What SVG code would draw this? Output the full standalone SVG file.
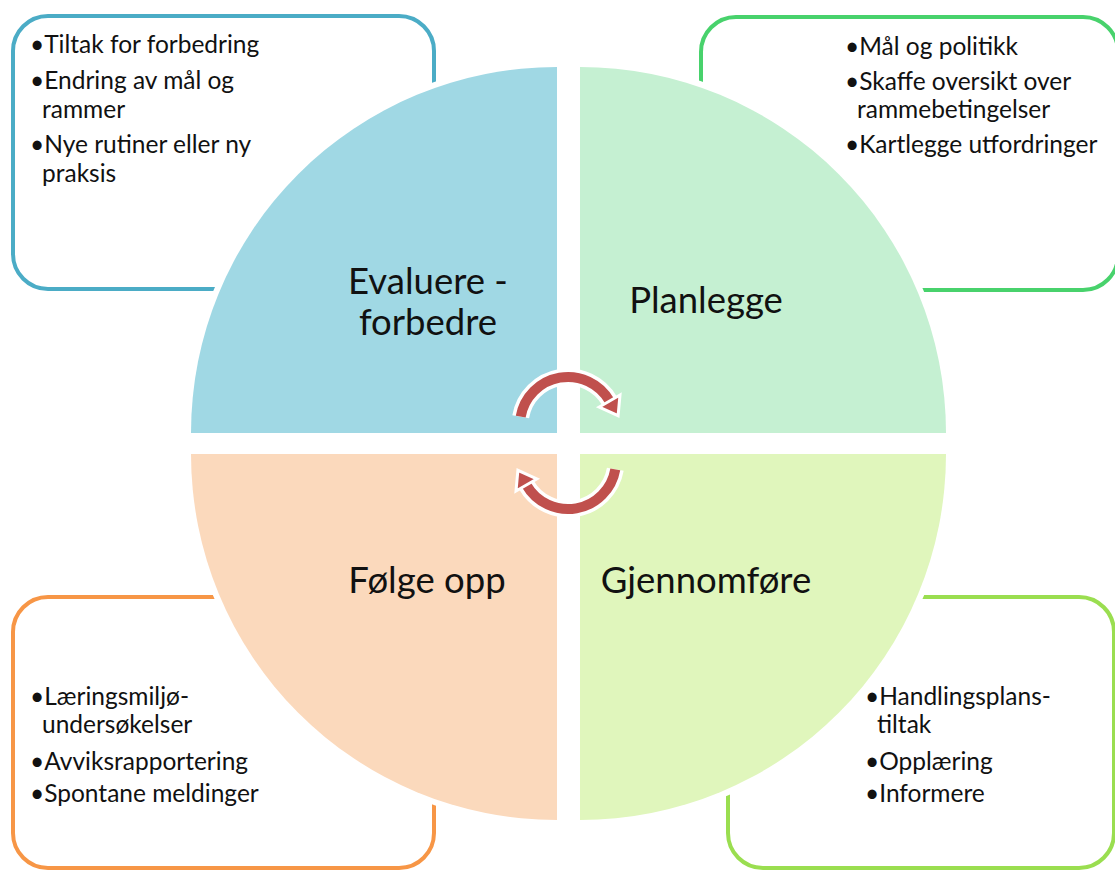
<svg xmlns="http://www.w3.org/2000/svg" width="1115" height="870" viewBox="0 0 1115 870">
<style>
.box{fill:#fff;stroke-width:4}
.q{stroke:#fff;stroke-width:12;paint-order:stroke}
.t{font-family:Lato,"Liberation Sans",sans-serif;font-size:24.5px;fill:#111}
.big{font-family:Lato,"Liberation Sans",sans-serif;font-size:36.5px;fill:#111;text-anchor:middle}
.arcw{fill:none;stroke:#fff;stroke-width:17}
.arcr{fill:none;stroke:#C0504D;stroke-width:10}
.head{fill:#C0504D;stroke:#fff;stroke-width:3;stroke-linejoin:miter}
</style>
<g id="box-evaluere"><rect class="box" x="13" y="16" width="421" height="273" rx="35" stroke="#4BACC6"/>
<text class="t"><tspan x="30" y="53">•Tiltak for forbedring</tspan><tspan x="30" y="89">•Endring av mål og</tspan><tspan x="42" y="118">rammer</tspan><tspan x="30" y="153">•Nye rutiner eller ny</tspan><tspan x="42" y="182">praksis</tspan></text></g>
<g id="box-planlegge"><rect class="box" x="701" y="17" width="417" height="273" rx="35" stroke="#48D26C"/>
<text class="t"><tspan x="845" y="55">•Mål og politikk</tspan><tspan x="845" y="90">•Skaffe oversikt over</tspan><tspan x="857" y="118">rammebetingelser</tspan><tspan x="845" y="153">•Kartlegge utfordringer</tspan></text></g>
<g id="box-folge"><rect class="box" x="13" y="597" width="421" height="271" rx="35" stroke="#F79646"/>
<text class="t"><tspan x="30" y="705">•Læringsmiljø-</tspan><tspan x="42" y="733">undersøkelser</tspan><tspan x="30" y="770">•Avviksrapportering</tspan><tspan x="30" y="802">•Spontane meldinger</tspan></text></g>
<g id="box-gjennomfore"><rect class="box" x="728" y="597" width="386" height="271" rx="35" stroke="#9ADE50"/>
<text class="t"><tspan x="865" y="705">•Handlingsplans-</tspan><tspan x="877" y="733">tiltak</tspan><tspan x="865" y="770">•Opplæring</tspan><tspan x="865" y="802">•Informere</tspan></text></g>
<g id="q-evaluere"><path class="q" fill="#A0D8E4" d="M557,433 L191,433 A366,366 0 0 1 557,67 Z"/>
<text class="big"><tspan x="428" y="294">Evaluere -</tspan><tspan x="428" y="335">forbedre</tspan></text></g>
<g id="q-planlegge"><path class="q" fill="#C5F0D2" d="M580,433 L580,67 A366,366 0 0 1 946,433 Z"/>
<text class="big" x="706" y="313">Planlegge</text></g>
<g id="q-folge"><path class="q" fill="#FBD9BC" d="M557,454 L557,820 A366,366 0 0 1 191,454 Z"/>
<text class="big" x="427" y="593">Følge opp</text></g>
<g id="q-gjennomfore"><path class="q" fill="#E0F6BC" d="M580,454 L946,454 A366,366 0 0 1 580,820 Z"/>
<text class="big" x="706" y="593">Gjennomføre</text></g>
<g id="connectors">
<path class="arcw" d="M520.7,416.7 A48,48 0 0 1 609.6,401"/>
<path class="arcw" d="M615.3,469.3 A48,48 0 0 1 526.4,485"/>
<path class="arcr" d="M520.7,416.7 A48,48 0 0 1 609.6,401"/>
<path class="arcr" d="M615.3,469.3 A48,48 0 0 1 526.4,485"/>
<polygon class="head" points="620,395 599.2,407 618.1,415.7"/>
<polygon class="head" points="516,491 536.8,479 517.9,470.3"/>
</g>
</svg>
